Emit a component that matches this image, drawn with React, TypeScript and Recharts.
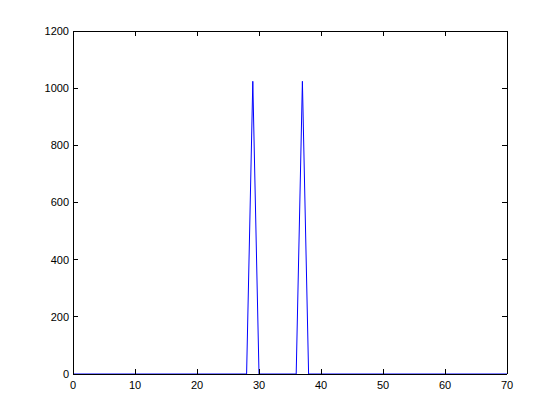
import { LineChart, Line, XAxis, YAxis, ReferenceLine } from 'recharts';

const xValues = [0, 28, 29, 30, 36, 37, 38, 70];
const yValues = [0, 0, 1024, 0, 0, 1024, 0, 0];
const xTicks = [0, 10, 20, 30, 40, 50, 60, 70];
const yTicks = [0, 200, 400, 600, 800, 1000, 1200];

const data = xValues.map((x, i) => ({ x, y: yValues[i] }));

const tickFont = { fontSize: 11, fontFamily: 'Liberation Sans, Arial, sans-serif', fill: '#000' };
const axisStyle = { stroke: '#000', shapeRendering: 'crispEdges' };
const emptyTick = () => <g />;
// right-hand ticks, 5px long (~0.8 x units)
const rightTickLen = 0.8;

export default function App() {
  return (
    <div style={{ position: 'fixed', left: 0, top: 0, width: 560, height: 420, background: '#fff' }}>
      <LineChart width={560} height={420} data={data} margin={{ top: 30, right: 52, bottom: 0, left: 0 }}>
        <XAxis xAxisId="bottom" dataKey="x" type="number" domain={[0, 70]} ticks={xTicks} height={46} tick={tickFont} tickSize={-5} tickMargin={12} axisLine={axisStyle} tickLine={axisStyle} interval={0} />
        <XAxis xAxisId="top" orientation="top" dataKey="x" type="number" domain={[0, 70]} ticks={xTicks} height={1} tick={emptyTick} tickSize={-5} axisLine={axisStyle} tickLine={axisStyle} interval={0} />
        <YAxis yAxisId="left" type="number" domain={[0, 1200]} ticks={yTicks} width={73} tick={tickFont} tickSize={-5} tickMargin={9} axisLine={axisStyle} tickLine={axisStyle} interval={0} />
        <YAxis yAxisId="right" orientation="right" type="number" domain={[0, 1200]} ticks={yTicks} width={1} tick={emptyTick} tickLine={false} axisLine={axisStyle} interval={0} />
        <Line xAxisId="bottom" yAxisId="left" dataKey="y" type="linear" stroke="#0000ff" strokeWidth={1} dot={false} isAnimationActive={false} />
        <ReferenceLine xAxisId="bottom" yAxisId="left" y={0} stroke="#000" shapeRendering="crispEdges" />
        {yTicks.map((t) => (
          <ReferenceLine
            key={t}
            xAxisId="bottom"
            yAxisId="left"
            segment={[{ x: 70 - rightTickLen, y: t }, { x: 70, y: t }]}
            stroke="#000"
            shapeRendering="crispEdges"
          />
        ))}
      </LineChart>
    </div>
  );
}
